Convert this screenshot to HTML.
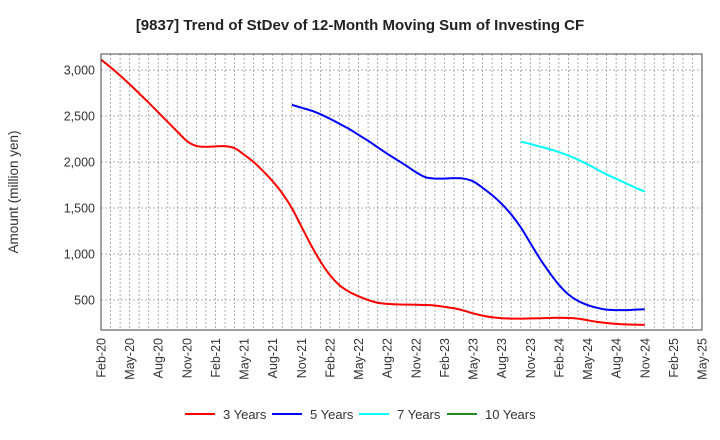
<!DOCTYPE html>
<html><head><meta charset="utf-8"><style>
html,body{margin:0;padding:0;background:#fff;width:720px;height:440px;overflow:hidden}
text{font-family:"Liberation Sans",Arial,sans-serif}
</style></head><body>
<svg id="chart" width="720" height="440" xmlns="http://www.w3.org/2000/svg">
<text x="360" y="30" text-anchor="middle" font-size="15" font-weight="bold" fill="#222">[9837]  Trend of StDev of 12-Month Moving Sum of Investing CF</text>
<text transform="translate(18,192) rotate(-90)" text-anchor="middle" font-size="13.5" fill="#333">Amount (million yen)</text>
<g id="grid"></g><g id="series"></g><g id="axes"></g>
<g id="legend"></g>
</svg>
<script>
const xLabels=["Feb-20","May-20","Aug-20","Nov-20","Feb-21","May-21","Aug-21","Nov-21","Feb-22","May-22","Aug-22","Nov-22","Feb-23","May-23","Aug-23","Nov-23","Feb-24","May-24","Aug-24","Nov-24","Feb-25","May-25"];
const yTicks=[500,1000,1500,2000,2500,3000];
const yTickLabels=["500","1,000","1,500","2,000","2,500","3,000"];
const seriesNames=["3 Years","5 Years","7 Years","10 Years"];
const seriesColors=["#ff0000","#0000ff","#00ffff","#228b22"];
const seriesStart=[0,20,44,0];
const y3=[3113,3030,2940,2845,2745,2645,2540,2435,2330,2228,2175,2165,2170,2172,2150,2080,2000,1900,1790,1660,1500,1300,1100,920,770,660,590,540,500,470,458,452,450,449,446,440,425,410,385,355,330,312,302,298,298,300,302,305,307,305,298,280,262,250,240,235,232,230];
const y5=[2622,2590,2560,2520,2470,2415,2360,2295,2230,2160,2090,2025,1960,1890,1835,1820,1820,1825,1820,1790,1720,1640,1545,1430,1290,1120,950,800,665,560,490,445,415,395,390,390,395,400];
const y7=[2222,2196,2168,2140,2108,2070,2025,1975,1920,1865,1818,1770,1722,1678];
const y10=[];
const allSeries=[y3,y5,y7,y10];

const L=101,R=702,T=54,B=330;
const xScale=m=>L+(R-L)*m/63;
const yScale=v=>300-(v-500)*0.092;
const ns="http://www.w3.org/2000/svg";
function mk(tag,attrs,parent){const e=document.createElementNS(ns,tag);for(const k in attrs)e.setAttribute(k,attrs[k]);parent.appendChild(e);return e;}
const grid=document.getElementById('grid'),axes=document.getElementById('axes'),ser=document.getElementById('series'),leg=document.getElementById('legend');
for(let m=1;m<64;m++){const x=xScale(m);
 const g=mk('line',{x1:x,x2:x,y1:T,y2:B,stroke:'#999','stroke-width':0.8,'stroke-dasharray':'2,2'},grid);
 
 }
yTicks.forEach((v,i)=>{const y=yScale(v);
 const g=mk('line',{x1:L,x2:R,y1:y,y2:y,stroke:'#999','stroke-width':0.8,'stroke-dasharray':'2,2'},grid);
 
 
 const t=mk('text',{x:95,y:y+4.5,'text-anchor':'end','font-size':12.5,fill:'#333'},axes);t.textContent=yTickLabels[i];
 
 });
xLabels.forEach((s,i)=>{const x=xScale(i*3);
 const t=mk('text',{transform:`translate(${x+4.5},${338}) rotate(-90)`,'text-anchor':'end','font-size':12.5,fill:'#333'},axes);t.textContent=s;
 
 });
const fr=mk('rect',{x:L,y:T,width:R-L,height:B-T,fill:'none',stroke:'#444','stroke-width':1},axes);


function pathFor(pts){if(pts.length<2)return '';let d=`M${pts[0][0]},${pts[0][1]}`;
 for(let i=0;i<pts.length-1;i++){const p0=pts[Math.max(0,i-1)],p1=pts[i],p2=pts[i+1],p3=pts[Math.min(pts.length-1,i+2)];
  const c1=[p1[0]+(p2[0]-p0[0])/6,p1[1]+(p2[1]-p0[1])/6],c2=[p2[0]-(p3[0]-p1[0])/6,p2[1]-(p3[1]-p1[1])/6];
  d+=` C${c1[0]},${c1[1]} ${c2[0]},${c2[1]} ${p2[0]},${p2[1]}`;}return d;}
allSeries.forEach((arr,si)=>{if(!arr.length)return;const pts=arr.map((v,i)=>[xScale(seriesStart[si]+i),yScale(v)]);
 const p=mk('path',{d:pathFor(pts),fill:'none',stroke:seriesColors[si],'stroke-width':2},ser);
 
 });
const lx=[185,272,359,447];
seriesNames.forEach((n,i)=>{
 const l=mk('line',{x1:lx[i],x2:lx[i]+30,y1:414,y2:414,stroke:seriesColors[i],'stroke-width':2},leg);
 
 
 const t=mk('text',{x:lx[i]+38,y:419,'font-size':13,fill:'#333'},leg);t.textContent=n;
 
 });
</script>
</body></html>
